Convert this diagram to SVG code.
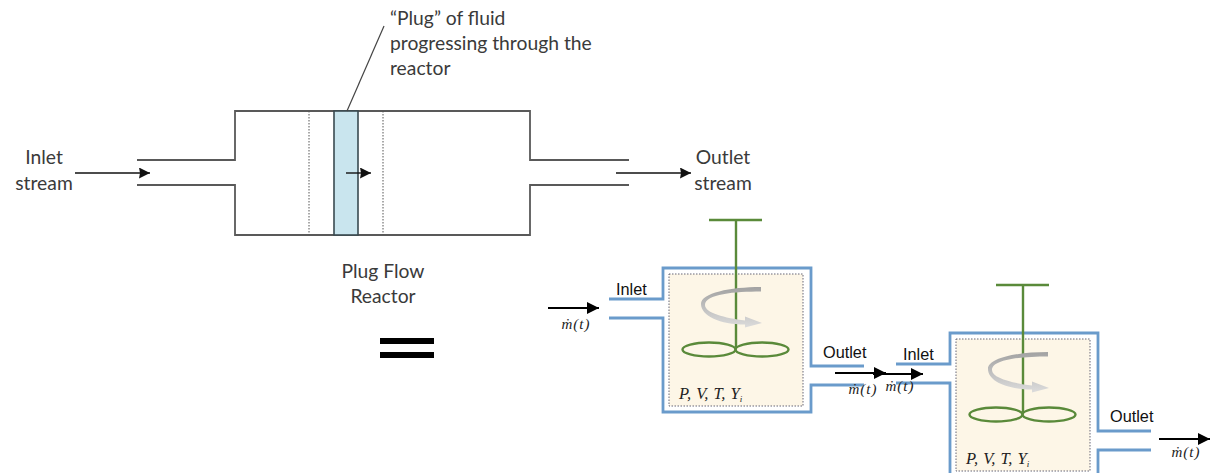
<svg xmlns="http://www.w3.org/2000/svg" xmlns:xlink="http://www.w3.org/1999/xlink" width="1217" height="473" viewBox="0 0 1217 473">
<style>
.cal{font-family:Lato,"Open Sans",sans-serif;font-size:19.3px;fill:#3a3a3a}
.ar{font-family:"Liberation Sans",Arial,sans-serif;font-size:16.3px;fill:#111}
.md{font-family:"Liberation Serif",serif;font-style:italic;font-size:15px;letter-spacing:1px;fill:#222}
.vars{font-family:"Liberation Serif",serif;font-style:italic;font-size:16.5px;word-spacing:1px;fill:#222}
.wall{fill:none;stroke:#595959;stroke-width:1.8}
.dot{fill:none;stroke:#555;stroke-width:1;stroke-dasharray:1.5 1.5}
.thin{stroke:#111;stroke-width:1.4;fill:none}
.thick{stroke:#000;stroke-width:2.2;fill:none}
.blue{fill:none;stroke:#6a9bcb;stroke-width:2.8}
.inner{fill:#fdf6e7;stroke:#667;stroke-width:1;stroke-dasharray:1.5 1.5}
.green{fill:none;stroke:#5a8a3a;stroke-width:2.4}
</style>
<defs>
<marker id="hs" markerUnits="userSpaceOnUse" markerWidth="11" markerHeight="11" refX="11" refY="5.5" orient="auto"><path d="M0 0L11 5.500L0 11L1 5.500Z" fill="#111"/></marker>
<marker id="hb" markerUnits="userSpaceOnUse" markerWidth="12" markerHeight="12" refX="12" refY="6" orient="auto"><path d="M0 0L12 6L0 12Z" fill="#000"/></marker>
<linearGradient id="sw" x1="0" y1="0" x2="0" y2="1"><stop offset="0" stop-color="#a2a2a2"/><stop offset="1" stop-color="#dcdcdc"/></linearGradient>
<g id="stir">
<path class="green" d="M709 220H762M736 220V347"/>
<ellipse class="green" cx="709" cy="349.5" rx="26.5" ry="7"/>
<ellipse class="green" cx="762" cy="349.5" rx="26.5" ry="7"/>
<path d="M761 287V291.500C735 291.500 705 294 705 305C705 313 725 318 745 320.500L745 316.500L762 323L745 327.500L745 324.500C720 324.500 701 316 701 304C701 293 730 287 761 287Z" fill="url(#sw)"/>
</g>
</defs>

<g id="plug-flow-reactor">
<path class="wall" d="M137 160H235V111H530V160H629M137 185H235V235H530V185H629"/>
<rect x="334" y="111" width="24" height="124" fill="#c9e5ee" stroke="#3a4a50" stroke-width="1.6"/>
<path class="dot" d="M309 111V235M383 111V235"/>
</g>
<g id="label-plug" class="cal">
<text x="390" y="25">“Plug” of fluid</text>
<text x="390" y="50">progressing through the</text>
<text x="390" y="75">reactor</text>
</g>
<g id="label-inlet-stream" class="cal" text-anchor="middle">
<text x="44" y="164">Inlet</text>
<text x="44" y="190">stream</text>
</g>
<g id="label-outlet-stream" class="cal" text-anchor="middle">
<text x="723" y="164">Outlet</text>
<text x="723" y="190">stream</text>
</g>
<g id="label-pfr" class="cal" text-anchor="middle">
<text x="383" y="278">Plug Flow</text>
<text x="383" y="303">Reactor</text>
</g>
<g id="equals"><rect x="380" y="338" width="54" height="6"/><rect x="380" y="352" width="54" height="6"/></g>

<g id="cstr-1">
<rect class="inner" x="669" y="274" width="134" height="132"/>
<path class="blue" d="M609 299H663V268H811V366H864M609 318H663V412H811V385H864"/>
<use xlink:href="#stir" href="#stir"/>
<text class="vars" x="679" y="399" xml:space="preserve">P, V, T, Y<tspan font-size="9" dy="3">i</tspan></text>
<text class="ar" x="616" y="295">Inlet</text>
<text class="ar" x="823" y="358">Outlet</text>
</g>
<g id="cstr-2">
<rect class="inner" x="956" y="339" width="134" height="132"/>
<path class="blue" d="M896 364H950V333H1098V431H1151M896 383H950V477M1098 477V450H1151"/>
<use xlink:href="#stir" href="#stir" transform="translate(287 65)"/>
<text class="vars" x="966" y="464" xml:space="preserve">P, V, T, Y<tspan font-size="9" dy="3">i</tspan></text>
<text class="ar" x="903" y="360">Inlet</text>
<text class="ar" x="1110" y="422">Outlet</text>
</g>

<g id="connectors">
<path class="thin" marker-end="url(#hs)" d="M75 173H150"/>
<path class="thin" marker-end="url(#hs)" d="M346 173H371"/>
<path class="thin" marker-end="url(#hs)" d="M616 173H691"/>
<path d="M384 26L347 111" stroke="#444" stroke-width="1.2" fill="none"/>
<path class="thick" marker-end="url(#hb)" d="M548 308H599"/>
<path class="thick" marker-end="url(#hb)" d="M835 373H886"/>
<path class="thick" marker-end="url(#hb)" d="M873 374H923"/>
<path class="thick" marker-end="url(#hb)" d="M1159 439H1210"/>
</g>
<g id="flow-labels" class="md" text-anchor="middle">
<text x="576" y="329">ṁ(t)</text>
<text x="863" y="394">ṁ(t)</text>
<text x="900" y="391">ṁ(t)</text>
<text x="1186" y="457">ṁ(t)</text>
</g>
</svg>
